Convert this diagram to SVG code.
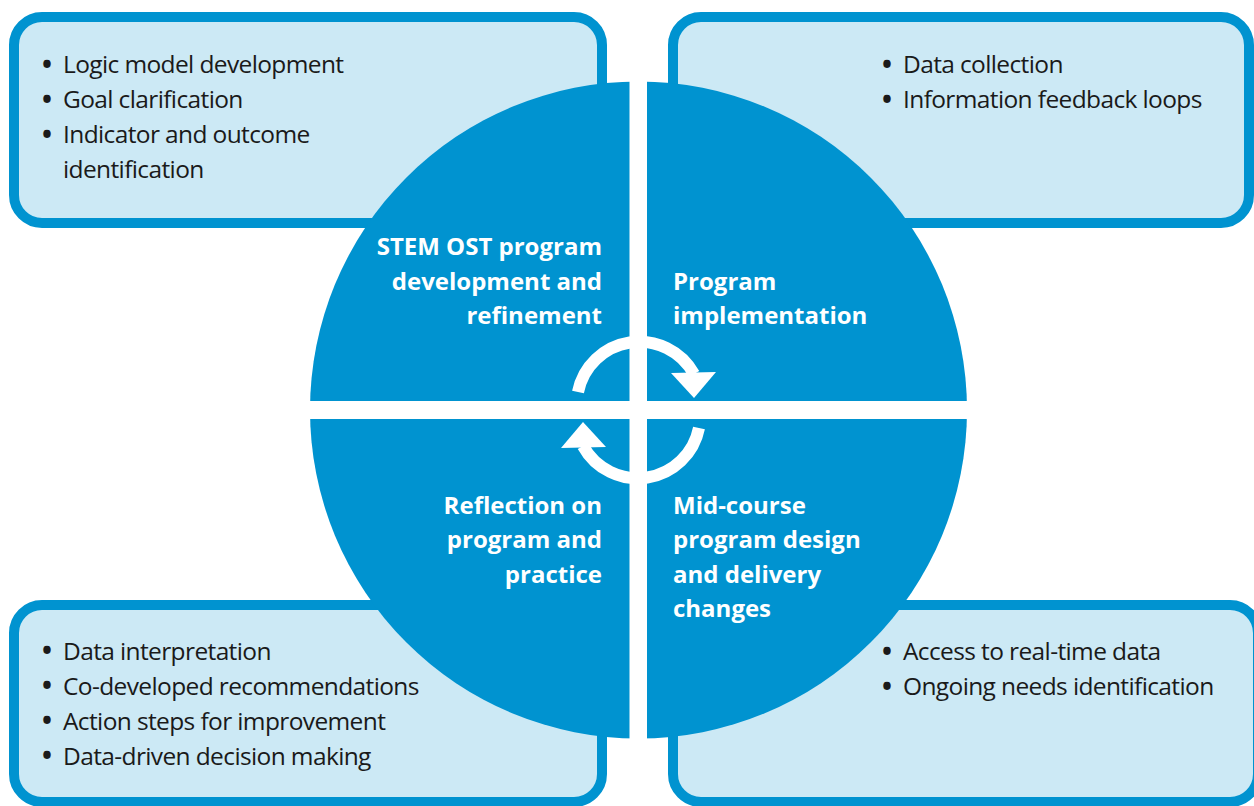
<svg xmlns="http://www.w3.org/2000/svg" width="1254" height="806" viewBox="0 0 1254 806">
  <style>
    .box { fill: #cce9f5; stroke: #0093d0; stroke-width: 10; }
    .item { font-family: "Open Sans", "Noto Sans", sans-serif; font-size: 24.5px; letter-spacing: -0.62px; fill: #1a1a1a; }
    .dot { font-size: 26.5px; font-weight: 700; letter-spacing: 0; }
    .stage { font-family: "Open Sans", "Noto Sans", sans-serif; font-size: 24px; font-weight: 700; fill: #ffffff; }
    .end { text-anchor: end; }
    .cycle { fill: none; stroke: #ffffff; stroke-width: 12; }
    .head { fill: #ffffff; }
  </style>

  <!-- corner boxes with activity lists -->
  <g id="box-development">
    <rect class="box" x="14" y="17" width="588" height="206" rx="28"/>
    <text class="item" y="73"><tspan class="dot" x="42" y="73.5">•</tspan><tspan x="63" y="73">Logic model development</tspan></text>
    <text class="item" y="108"><tspan class="dot" x="42" y="108.5">•</tspan><tspan x="63" y="108">Goal clarification</tspan></text>
    <text class="item" y="143"><tspan class="dot" x="42" y="143.5">•</tspan><tspan x="63" y="143">Indicator and outcome</tspan></text>
    <text class="item" x="63" y="177.5">identification</text>
  </g>

  <g id="box-implementation">
    <rect class="box" x="673" y="17" width="576" height="206" rx="28"/>
    <text class="item" y="73"><tspan class="dot" x="882" y="73.5">•</tspan><tspan x="903" y="73">Data collection</tspan></text>
    <text class="item" y="108"><tspan class="dot" x="882" y="108.5">•</tspan><tspan x="903" y="108">Information feedback loops</tspan></text>
  </g>

  <g id="box-reflection">
    <rect class="box" x="14" y="605" width="588" height="197" rx="28"/>
    <text class="item" y="659.5"><tspan class="dot" x="42" y="660">•</tspan><tspan x="63" y="659.5">Data interpretation</tspan></text>
    <text class="item" y="694.5"><tspan class="dot" x="42" y="695">•</tspan><tspan x="63" y="694.5">Co-developed recommendations</tspan></text>
    <text class="item" y="729.5"><tspan class="dot" x="42" y="730">•</tspan><tspan x="63" y="729.5">Action steps for improvement</tspan></text>
    <text class="item" y="764.5"><tspan class="dot" x="42" y="765">•</tspan><tspan x="63" y="764.5">Data-driven decision making</tspan></text>
  </g>

  <g id="box-midcourse">
    <rect class="box" x="673" y="605" width="585" height="197" rx="28"/>
    <text class="item" y="660"><tspan class="dot" x="882" y="660.5">•</tspan><tspan x="903" y="660">Access to real-time data</tspan></text>
    <text class="item" y="695"><tspan class="dot" x="882" y="695.5">•</tspan><tspan x="903" y="695">Ongoing needs identification</tspan></text>
  </g>

  <!-- central disc split into four quadrants by a white cross -->
  <g id="cycle-disc">
    <circle cx="638.5" cy="410" r="328.5" fill="#0093d0"/>
    <rect x="629.5" y="75" width="17.5" height="670" fill="#ffffff"/>
    <rect x="305" y="401" width="668" height="18" fill="#ffffff"/>
  </g>

  <g id="stage-development">
    <text class="stage end" x="602" y="254.5">STEM OST program</text>
    <text class="stage end" x="602" y="289.5">development and</text>
    <text class="stage end" x="602" y="324">refinement</text>
  </g>

  <g id="stage-implementation">
    <text class="stage" x="673" y="289.5">Program</text>
    <text class="stage" x="673" y="324">implementation</text>
  </g>

  <g id="stage-reflection">
    <text class="stage end" x="602" y="513.5">Reflection on</text>
    <text class="stage end" x="602" y="548">program and</text>
    <text class="stage end" x="602" y="582.5">practice</text>
  </g>

  <g id="stage-midcourse">
    <text class="stage" x="673" y="513.5">Mid-course</text>
    <text class="stage" x="673" y="548">program design</text>
    <text class="stage" x="673" y="582.5">and delivery</text>
    <text class="stage" x="673" y="617">changes</text>
  </g>

  <!-- circular arrows at the centre -->
  <g id="connectors">
    <path class="cycle" d="M 578 392 A 62.5 62.5 0 0 1 694 374"/>
    <polygon class="head" points="671,373 716,372 694,398"/>
    <path class="cycle" d="M 699 428 A 62.5 62.5 0 0 1 583 446"/>
    <polygon class="head" points="606,447 561,448 583,422"/>
  </g>
</svg>
